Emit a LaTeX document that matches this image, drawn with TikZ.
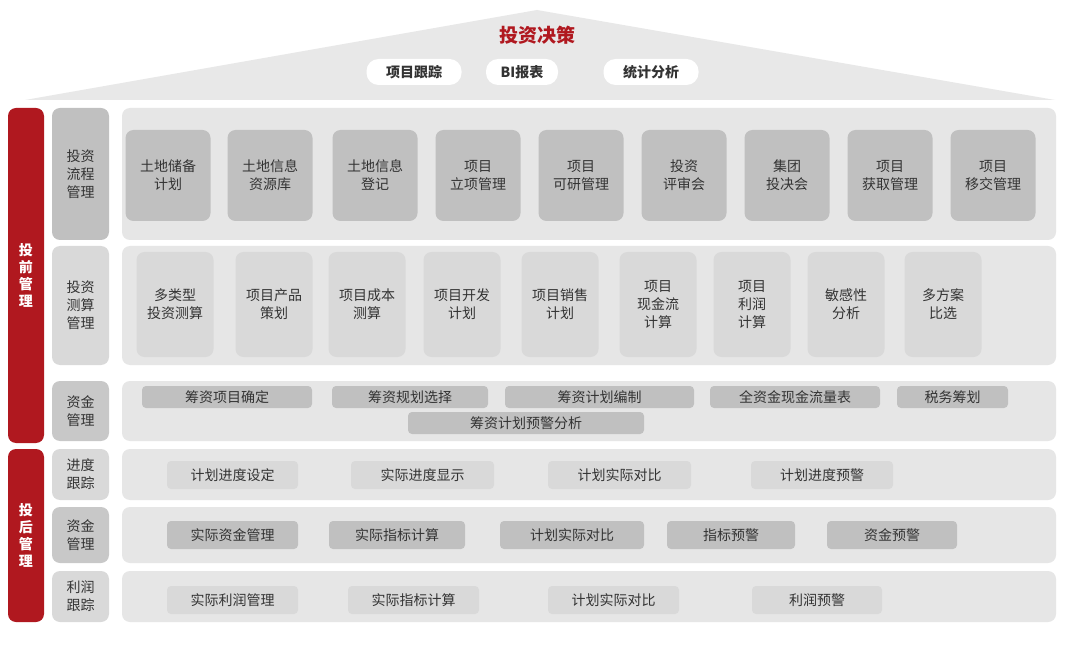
\documentclass[tikz,border=0pt]{standalone}
\usepackage{fontspec}
\setmainfont{Noto Sans CJK SC}
\definecolor{roofgray}{HTML}{E8E8E8}
\definecolor{panelgray}{HTML}{E6E6E6}
\definecolor{darkbox}{HTML}{C0C0C0}
\definecolor{lightbox}{HTML}{D9D9D9}
\definecolor{midbox}{HTML}{C8C8C8}
\definecolor{redbar}{HTML}{B0181F}
\definecolor{txt}{HTML}{333333}
\tikzset{
  panel/.style={fill=panelgray,rounded corners=8pt,draw=none},
  cell/.style={rounded corners=8pt,draw=none,text=txt,align=center,inner sep=0pt,font=\fontsize{14}{18}\selectfont},
  pill/.style={rounded corners=4pt,draw=none,text=txt,inner sep=0pt,font=\fontsize{14}{16}\selectfont},
}
\begin{document}
\begin{tikzpicture}[x=1pt,y=-1pt]
\useasboundingbox[fill=white] (0,0) rectangle (1068,652);
% roof
\fill[roofgray] (25,100) -- (537,10) -- (1055,100) -- cycle;
\node[text=redbar,font=\fontsize{19}{20}\selectfont\bfseries] (title) at (537,35) {投资决策};
\node[pill,fill=white,rounded corners=12pt,minimum width=95pt,minimum height=26pt,font=\fontsize{14}{16}\selectfont\bfseries] (track) at (414,72) {项目跟踪};
\node[pill,fill=white,rounded corners=12pt,minimum width=72pt,minimum height=26pt,font=\fontsize{14}{16}\selectfont\bfseries] (bi) at (522,72) {BI报表};
\node[pill,fill=white,rounded corners=12pt,minimum width=95pt,minimum height=26pt,font=\fontsize{14}{16}\selectfont\bfseries] (stat) at (651,72) {统计分析};
% red bars
\fill[redbar,rounded corners=8pt] (8,108) rectangle (44,443);
\node[text=white,font=\fontsize{14}{17}\selectfont\bfseries,align=center] (pre) at (26,275) {投\\前\\管\\理};
\fill[redbar,rounded corners=8pt] (8,449) rectangle (44,622);
\node[text=white,font=\fontsize{14}{17}\selectfont\bfseries,align=center] (post) at (26,535) {投\\后\\管\\理};
% row labels and panels
\foreach \ya/\yb/\col/\lab [count=\i] in {108/240/darkbox/投资\\流程\\管理, 246/365/lightbox/投资\\测算\\管理, 381/441/midbox/资金\\管理, 449/500/lightbox/进度\\跟踪, 507/563/midbox/资金\\管理, 571/622/lightbox/利润\\跟踪}{
  \fill[\col,rounded corners=8pt] (52,\ya) rectangle (109,\yb);
  \node[cell] (lab\i) at (80.5,{(\ya+\yb)/2}) {\lab};
  \fill[panel] (122,\ya) rectangle (1056,\yb);
}
% row 1
\foreach \x/\t [count=\i] in {168/土地储备\\计划, 270/土地信息\\资源库, 375/土地信息\\登记, 478/项目\\立项管理, 581/项目\\可研管理, 684/投资\\评审会, 787/集团\\投决会, 890/项目\\获取管理, 993/项目\\移交管理}
  \node[cell,fill=darkbox,minimum width=85pt,minimum height=91pt] (flow\i) at (\x,175.5) {\t};
% row 2
\foreach \x/\t [count=\i] in {175/多类型\\投资测算, 274/项目产品\\策划, 367/项目成本\\测算, 462/项目开发\\计划, 560/项目销售\\计划, 658/项目\\现金流\\计算, 752/项目\\利润\\计算, 846/敏感性\\分析, 943/多方案\\比选}
  \node[cell,fill=lightbox,minimum width=77pt,minimum height=105pt] (calc\i) at (\x,304.5) {\t};
% row 3
\foreach \xa/\xb/\y/\t [count=\i] in {142/312/397/筹资项目确定, 332/488/397/筹资规划选择, 505/694/397/筹资计划编制, 710/880/397/全资金现金流量表, 897/1008/397/税务筹划, 408/644/423/筹资计划预警分析}
  \node[pill,fill=darkbox,minimum width=\xb-\xa,minimum height=22pt] (fund\i) at ({(\xa+\xb)/2},\y) {\t};
% row 4
\foreach \xa/\xb/\t [count=\i] in {167/298/计划进度设定, 351/494/实际进度显示, 548/691/计划实际对比, 751/893/计划进度预警}
  \node[pill,fill=lightbox,minimum width=\xb-\xa,minimum height=28pt] (prog\i) at ({(\xa+\xb)/2},475) {\t};
% row 5
\foreach \xa/\xb/\t [count=\i] in {167/298/实际资金管理, 329/465/实际指标计算, 500/644/计划实际对比, 667/795/指标预警, 827/957/资金预警}
  \node[pill,fill=darkbox,minimum width=\xb-\xa,minimum height=28pt] (cash\i) at ({(\xa+\xb)/2},535) {\t};
% row 6
\foreach \xa/\xb/\t [count=\i] in {167/298/实际利润管理, 348/479/实际指标计算, 548/679/计划实际对比, 752/882/利润预警}
  \node[pill,fill=lightbox,minimum width=\xb-\xa,minimum height=28pt] (prof\i) at ({(\xa+\xb)/2},600) {\t};
\end{tikzpicture}
\end{document}
